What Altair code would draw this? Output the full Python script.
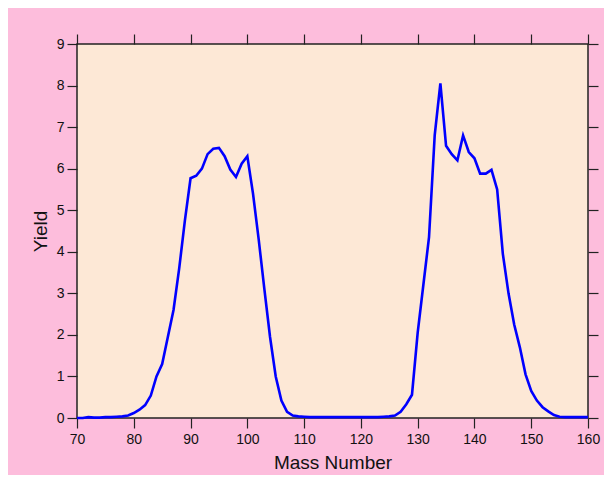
import altair as alt
import pandas as pd

mass_number = list(range(70, 161))
yield_values = [
    0.0, 0.0, 0.02, 0.01, 0.01, 0.02, 0.02, 0.03, 0.04, 0.06,   # 70-79
    0.12, 0.2, 0.31, 0.54, 1.0, 1.3, 1.95, 2.6, 3.6, 4.75,        # 80-89
    5.77, 5.83, 6.0, 6.35, 6.48, 6.5, 6.3, 5.98, 5.8, 6.12,       # 90-99
    6.3, 5.4, 4.3, 3.1, 1.95, 1.0, 0.42, 0.15, 0.06, 0.04,        # 100-109
    0.03, 0.02, 0.02, 0.02, 0.02, 0.02, 0.02, 0.02, 0.02, 0.02,   # 110-119
    0.02, 0.02, 0.02, 0.02, 0.03, 0.04, 0.06, 0.15, 0.33, 0.56,   # 120-129
    2.05, 3.2, 4.35, 6.8, 8.05, 6.55, 6.35, 6.2, 6.8, 6.4,        # 130-139
    6.25, 5.88, 5.88, 5.97, 5.5, 3.95, 3.0, 2.25, 1.7, 1.05,      # 140-149
    0.65, 0.42, 0.26, 0.16, 0.07, 0.03, 0.02, 0.02, 0.02, 0.02,   # 150-159
    0.02,                                                          # 160
]
x_ticks = [70, 80, 90, 100, 110, 120, 130, 140, 150, 160]
y_ticks = [0, 1, 2, 3, 4, 5, 6, 7, 8, 9]

df = pd.DataFrame({"A": mass_number, "Y": yield_values})

FONT = "Liberation Sans"

xscale = alt.Scale(domain=[70, 160], nice=False, zero=False)
yscale = alt.Scale(domain=[0, 9], nice=False)

main = alt.Chart(df).mark_line(color="#0000ff", strokeWidth=2.6).encode(
    x=alt.X("A:Q", scale=xscale, title="Mass Number",
            axis=alt.Axis(orient="bottom", values=x_ticks, format="d",
                          tickSize=10, labelPadding=4, titlePadding=7,
                          labelFlush=False)),
    y=alt.Y("Y:Q", scale=yscale, title="Yield",
            axis=alt.Axis(orient="left", values=y_ticks, format="d",
                          tickSize=10, labelPadding=3, titlePadding=6,
                          labelFlush=False)),
)

mirror = alt.Chart(df).mark_line(opacity=0).encode(
    x=alt.X("A:Q", scale=xscale, title=None,
            axis=alt.Axis(orient="top", values=x_ticks, labels=False, tickSize=10)),
    y=alt.Y("Y:Q", scale=yscale, title=None,
            axis=alt.Axis(orient="right", values=y_ticks, labels=False, tickSize=10)),
)

chart = alt.layer(main, mirror).resolve_axis(
    x="independent", y="independent"
).properties(
    width=511,
    height=374,
    padding={"left": 69, "top": 36, "right": 16, "bottom": 57},
    autosize=alt.AutoSizeParams(type="none"),
    background="#fdbddc",
).configure_view(
    fill="#fde8d6", stroke="#222222", strokeWidth=1.5
).configure_axis(
    domain=False,
    grid=False,
    ticks=True,
    tickColor="#222222",
    tickWidth=1.2,
    labelFont=FONT,
    labelFontSize=14,
    labelColor="#111111",
    titleFont=FONT,
    titleFontSize=19,
    titleFontWeight="normal",
    titleColor="#111111",
)

chart.save("out.html", embed_options={"renderer": "svg", "actions": False})
